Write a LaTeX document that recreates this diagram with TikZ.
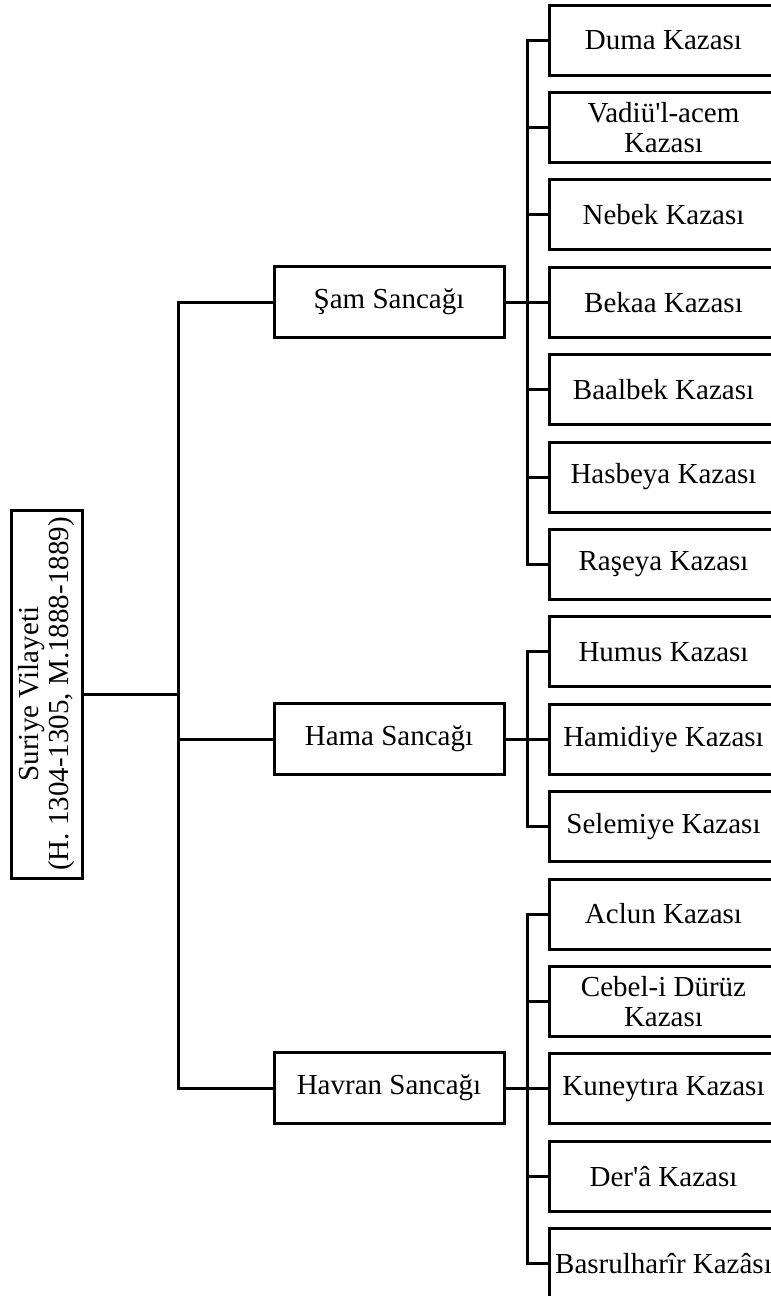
\documentclass[tikz,border=0pt]{standalone}
\usepackage{fontspec}
\setmainfont{Liberation Serif}[Ligatures=TeXOff]
\usetikzlibrary{positioning}

\begin{document}
\begin{tikzpicture}[x=0.5pt, y=-0.5pt, line width=1.5pt,
  every node/.style={font=\fontsize{14.5}{15}\selectfont, align=center, inner sep=0pt},
  root/.style={draw, rotate=90, minimum width=184pt, minimum height=35.5pt},
  sancak/.style={draw, minimum width=115pt, minimum height=35.5pt},
  kaza/.style={draw, minimum width=114.5pt, minimum height=35pt}]
  \useasboundingbox (0,0) rectangle (771,1296);
  \clip (0,0) rectangle (771,1296);

  \node[root] (suriye) at (46.5,694) {Suriye Vilayeti\\(H. 1304-1305, M.1888-1889)};

  \node[sancak] (sam)    at (389,302)  {Şam Sancağı};
  \node[sancak] (hama)   at (389,739)  {Hama Sancağı};
  \node[sancak] (havran) at (389,1088) {Havran Sancağı};

  \node[kaza] (duma)     at (663.5,40)    {Duma Kazası};
  \node[kaza] (vadi)     at (663.5,127.4) {Vadiü'l-acem\\Kazası};
  \node[kaza] (nebek)    at (663.5,214.8) {Nebek Kazası};
  \node[kaza] (bekaa)    at (663.5,302.2) {Bekaa Kazası};
  \node[kaza] (baalbek)  at (663.5,389.6) {Baalbek Kazası};
  \node[kaza] (hasbeya)  at (663.5,477)   {Hasbeya Kazası};
  \node[kaza] (raseya)   at (663.5,564.4) {Raşeya Kazası};
  \node[kaza] (humus)    at (663.5,651.8) {Humus Kazası};
  \node[kaza] (hamidiye) at (663.5,739.2) {Hamidiye Kazası};
  \node[kaza] (selemiye) at (663.5,826.6) {Selemiye Kazası};
  \node[kaza] (aclun)    at (663.5,914)   {Aclun Kazası};
  \node[kaza] (cebel)    at (663.5,1001.4) {Cebel-i Dürüz\\Kazası};
  \node[kaza] (kuneytira) at (663.5,1088.8) {Kuneytıra Kazası};
  \node[kaza] (dera)     at (663.5,1176.2) {Der'â Kazası};
  \node[kaza] (basrul)   at (663.5,1263.6) {Basrulharîr Kazâsı};

  % root to sancaks
  \coordinate (j) at (178,694);
  \draw (suriye) -- (j);
  \draw (sam) -| (j) |- (havran);
  \draw (j) |- (hama);

  % sancaks to kazas
  \coordinate (js) at (527,302);
  \coordinate (jh) at (527,739);
  \coordinate (jv) at (527,1088);
  \draw (sam) -- (js);
  \draw (hama) -- (jh);
  \draw (havran) -- (jv);
  \foreach \k in {duma,vadi,nebek,bekaa,baalbek,hasbeya,raseya}
    \draw (js) |- (\k);
  \foreach \k in {humus,hamidiye,selemiye}
    \draw (jh) |- (\k);
  \foreach \k in {aclun,cebel,kuneytira,dera,basrul}
    \draw (jv) |- (\k);
\end{tikzpicture}
\end{document}
